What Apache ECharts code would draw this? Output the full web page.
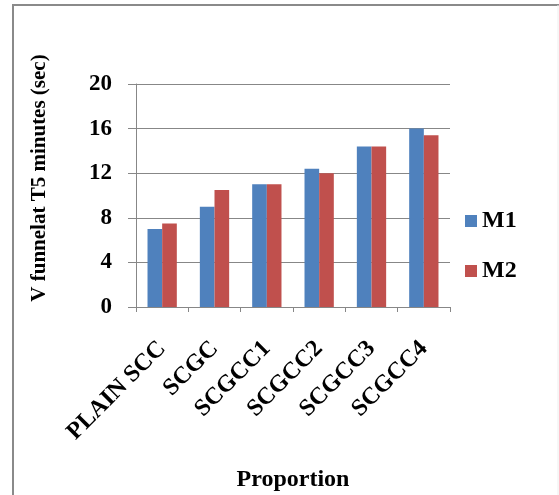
<!DOCTYPE html>
<html>
<head>
<meta charset="utf-8">
<script src="https://cdn.jsdelivr.net/npm/echarts@6/dist/echarts.min.js"></script>
<style>html,body{margin:0;padding:0;background:#fff;}#chart{width:559px;height:495px;}</style>
</head>
<body>
<div id="chart"></div>
<script>
var categories = ['PLAIN SCC', 'SCGC', 'SCGCC1', 'SCGCC2', 'SCGCC3', 'SCGCC4'];
var m1Values = [7, 9, 11, 12.4, 14.4, 16];
var m2Values = [7.5, 10.5, 11, 12, 14.4, 15.4];
var seriesNames = ['M1', 'M2'];
var yTicks = [0, 4, 8, 12, 16, 20];
var xTitle = 'Proportion';
var yTitle = 'V funnelat T5 minutes (sec)';

var FONT = '"Liberation Serif", "Times New Roman", serif';
var chart = echarts.init(document.getElementById('chart'), null, {renderer: 'canvas'});
chart.setOption({
  backgroundColor: '#ffffff',
  animation: false,
  color: ['#4F81BD', '#C0504D'],
  grid: {left: 136, right: 109, top: 84, bottom: 188, containLabel: false, outerBoundsMode: 'none'},
  legend: {
    orient: 'vertical',
    left: 460,
    top: 204,
    itemWidth: 12,
    itemHeight: 12,
    itemGap: 26,
    icon: 'rect',
    data: seriesNames,
    textStyle: {fontFamily: FONT, fontWeight: 'bold', fontSize: 24, color: '#000'}
  },
  xAxis: {
    type: 'category',
    data: categories,
    name: xTitle,
    nameLocation: 'middle',
    nameGap: 161,
    nameTextStyle: {fontFamily: FONT, fontWeight: 'bold', fontSize: 24, color: '#000'},
    axisLine: {lineStyle: {color: '#878787', width: 1}},
    axisTick: {show: true, length: 5, lineStyle: {color: '#878787'}},
    axisLabel: {rotate: 45, margin: 38, fontFamily: FONT, fontWeight: 'bold', fontSize: 24, color: '#000', interval: 0}
  },
  yAxis: {
    type: 'value',
    min: 0,
    max: 20,
    interval: 4,
    axisLine: {show: true, lineStyle: {color: '#878787', width: 1}},
    axisTick: {show: true, length: 8, lineStyle: {color: '#878787'}},
    splitLine: {show: true, lineStyle: {color: '#878787', width: 1}},
    axisLabel: {margin: 24, fontFamily: FONT, fontWeight: 'bold', fontSize: 23, color: '#000',
      formatter: function (v) { return yTicks.indexOf(v) >= 0 ? String(v) : ''; }}
  },
  graphic: [
    {type: 'line', shape: {x1: 13, y1: 5, x2: 559, y2: 5}, style: {stroke: '#8a8a8a', lineWidth: 2}},
    {type: 'line', shape: {x1: 13, y1: 4, x2: 13, y2: 495}, style: {stroke: '#8a8a8a', lineWidth: 2}},
    {type: 'line', shape: {x1: 558, y1: 5, x2: 558, y2: 495}, style: {stroke: '#eeeeee', lineWidth: 1}},
    {type: 'text', x: 40, y: 178, rotation: Math.PI / 2,
      style: {text: yTitle, fontFamily: FONT, fontWeight: 'bold', fontSize: 21, fill: '#000',
        textAlign: 'center', textVerticalAlign: 'middle', align: 'center', verticalAlign: 'middle'}}
  ],
  series: [
    {name: seriesNames[0], type: 'bar', data: m1Values, barWidth: '28%', barGap: '0%'},
    {name: seriesNames[1], type: 'bar', data: m2Values, barWidth: '28%', barGap: '0%'}
  ]
});
</script>
</body>
</html>
